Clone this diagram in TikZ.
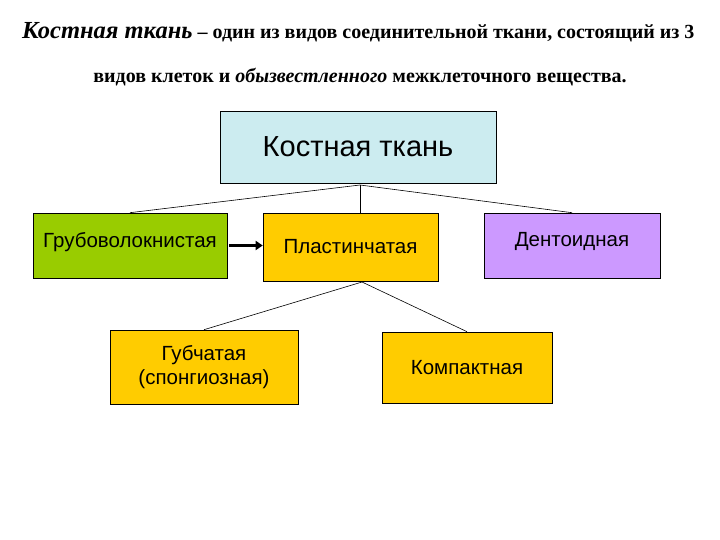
\documentclass[tikz,border=0pt]{standalone}
\usepackage{fontspec}
\setmainfont{Liberation Serif}
\newfontfamily\boxfont{Liberation Sans}
\usetikzlibrary{arrows.meta}
\begin{document}
\begin{tikzpicture}[x=1pt,y=-1pt,
  bx/.style={draw=black,line width=0.6pt,font=\boxfont\fontsize{20.5}{24}\selectfont,align=center,inner sep=0pt},
  ln/.style={line width=0.6pt}]
\useasboundingbox (0,0) rectangle (720,540);
\fill[white] (0,0) rectangle (720,540);
\node[anchor=west,inner sep=0pt] (t1) at (22,32) {\bfseries\fontsize{20}{24}\selectfont{\itshape\fontsize{24.5}{26}\selectfont Костная ткань} – один из видов соединительной ткани, состоящий из 3};
\node[inner sep=0pt] (t2) at (360,77) {\bfseries\fontsize{20}{24}\selectfont видов клеток и {\itshape обызвестленного} межклеточного вещества.};
\node[bx,fill={rgb,255:red,204;green,236;blue,240},minimum width=276pt,minimum height=72pt,font=\boxfont\fontsize{29}{32}\selectfont] (kt) at (358,147) {Костная ткань};
\node[bx,fill={rgb,255:red,153;green,204;blue,0},minimum width=194pt,minimum height=65pt] (g) at (130,245.5) {\raisebox{12pt}{Грубоволокнистая}};
\node[bx,fill={rgb,255:red,255;green,204;blue,0},minimum width=175pt,minimum height=68pt] (p) at (350.5,247) {Пластинчатая};
\node[bx,fill={rgb,255:red,204;green,153;blue,255},minimum width=176pt,minimum height=65pt] (d) at (572,245.5) {\raisebox{12pt}{Дентоидная}};
\node[bx,fill={rgb,255:red,255;green,204;blue,0},minimum width=188pt,minimum height=74pt] (gu) at (204,367) {Губчатая\\(спонгиозная)};
\node[bx,fill={rgb,255:red,255;green,204;blue,0},minimum width=170pt,minimum height=71pt] (k) at (467,367.5) {Компактная};
\coordinate (c1) at (360,185);
\coordinate (pt) at (360,213);
\draw[ln] (c1) -- (g.north);
\draw[ln] (c1) -- (pt);
\draw[ln] (c1) -- (d.north);
\coordinate (c2) at (362,282);
\draw[ln] (c2) -- (gu.north);
\draw[ln] (c2) -- (k.north);
\draw[line width=2.5pt,-{Triangle[length=7pt,width=9pt]}] (g.east) ++(2,0) coordinate (a0) -- (p.west|-a0);
\end{tikzpicture}
\end{document}
